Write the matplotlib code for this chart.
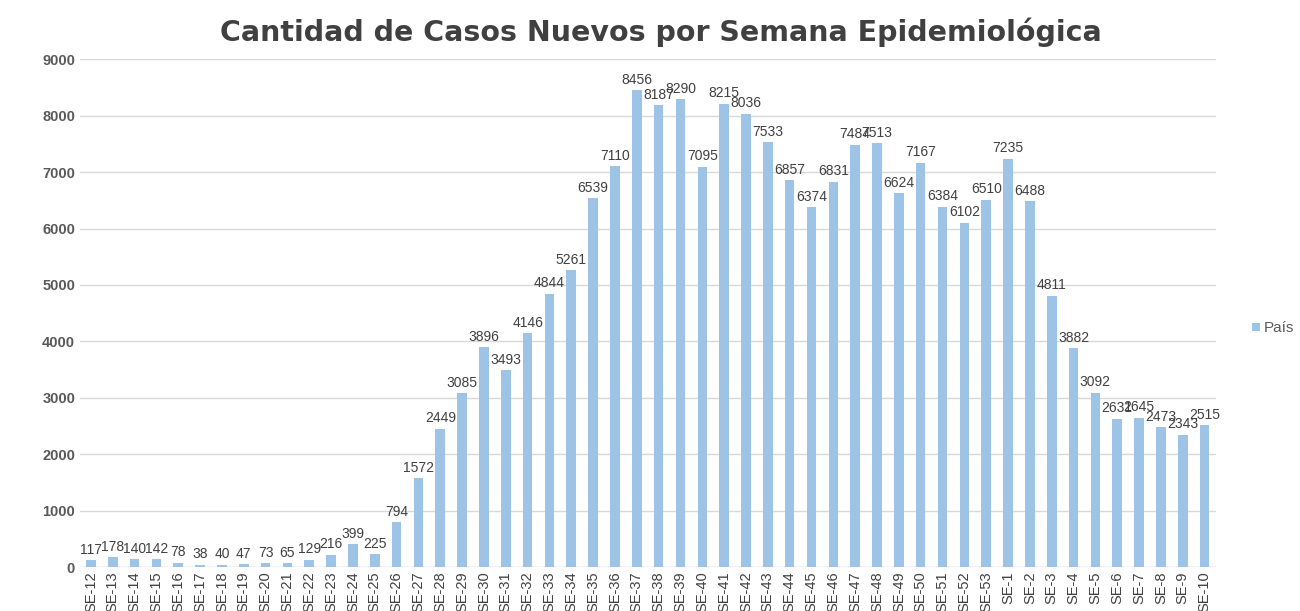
import matplotlib
matplotlib.use("Agg")
import matplotlib.pyplot as plt
import numpy as np

plt.rcParams['font.family'] = ['Liberation Sans', 'DejaVu Sans']

weeks = [f"SE-{i}" for i in range(12, 54)] + [f"SE-{i}" for i in range(1, 11)]
cases = [117, 178, 140, 142, 78, 38, 40, 47, 73, 65, 129, 216, 399, 225, 794,
         1572, 2449, 3085, 3896, 3493, 4146, 4844, 5261, 6539, 7110, 8456, 8187,
         8290, 7095, 8215, 8036, 7533, 6857, 6374, 6831, 7484, 7513, 6624, 7167,
         6384, 6102, 6510, 7235, 6488, 4811, 3882, 3092, 2631, 2645, 2473, 2343,
         2515]
series_name = "País"
yticks = list(range(0, 10000, 1000))

fig = plt.figure(figsize=(13, 6.11), dpi=100)
ax = fig.add_axes([0.0615, 0.072, 0.8735, 0.831])
x = np.arange(len(weeks))
ax.bar(x, cases, width=0.44, color="#9DC3E6", label=series_name, zorder=2)
for xi, v in zip(x, cases):
    ax.text(xi, v + 60, str(v), ha="center", va="bottom", fontsize=10, color="#404040")

ax.set_xlim(-0.5, len(weeks) - 0.5)
ax.set_ylim(0, 9000)
ax.set_yticks(yticks)
ax.set_yticklabels([str(t) for t in yticks], fontsize=10.5, color="#595959", fontweight="bold")
ax.set_xticks(x)
ax.set_xticklabels(weeks, rotation=90, fontsize=10.5, color="#404040")
ax.tick_params(axis="both", length=0)
ax.tick_params(axis="x", pad=3)
ax.yaxis.grid(True, color="#D9D9D9", linewidth=1, zorder=0)
for s in ["top", "right", "left", "bottom"]:
    ax.spines[s].set_visible(False)
ax.axhline(0, color="#D9D9D9", linewidth=1, zorder=1)

fig.suptitle("Cantidad de Casos Nuevos por Semana Epidemiológica", x=0.508, y=0.972,
             fontsize=20.5, fontweight="bold", color="#404040", family=["DejaVu Sans"])
ax.legend(loc="center left", bbox_to_anchor=(1.02, 0.47), frameon=False,
          fontsize=11, handlelength=0.5, handleheight=0.5, handletextpad=0.3,
          labelcolor="#595959")
fig.savefig("out.png", dpi=100)
